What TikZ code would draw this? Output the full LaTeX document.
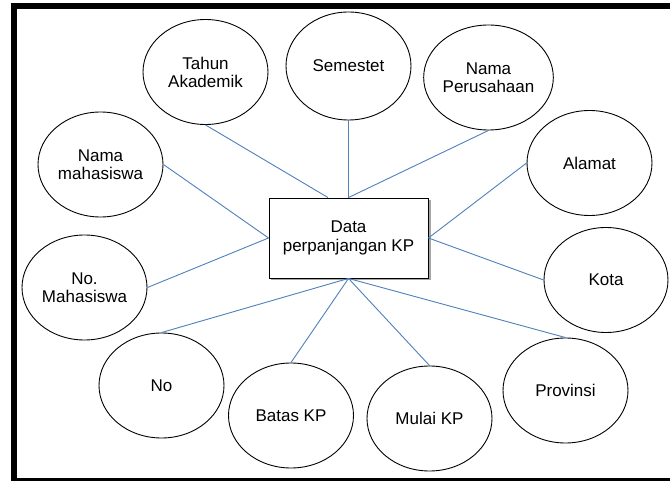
\documentclass[tikz,border=0pt]{standalone}
\usepackage{fontspec}
\setmainfont{Liberation Sans}
\usetikzlibrary{shapes.geometric}
\definecolor{linkblue}{RGB}{79,129,189}
\begin{document}
\begin{tikzpicture}[x=1pt,y=-1pt,
  attr/.style={ellipse,draw=black,line width=0.9pt,minimum width=125pt,minimum height=105pt,inner sep=0pt,align=center,font=\fontsize{17}{18}\selectfont},
  entity/.style={rectangle,draw=black,line width=0.9pt,fill=white,minimum width=159pt,minimum height=80pt,align=center,font=\fontsize{17}{19}\selectfont},
  link/.style={draw=linkblue,line width=0.9pt}]
\clip (0,0) rectangle (670,481);
\useasboundingbox (0,0) rectangle (670,481);
\fill[white] (0,0) rectangle (670,481);
\draw[line width=5.8pt] (14,6) rectangle (680,481);
% shadow of entity
\fill[gray!70] (271,200) rectangle (430.5,280.5);
\node[entity] (box) at (348.5,238) {Data\\perpanjangan KP};
\node[attr] (tahun) at (205.5,72) {Tahun\\Akademik};
\node[attr,minimum height=108pt] (sem) at (348.5,66) {Semestet};
\node[attr] (nper) at (488.5,77.5) {Nama\\Perusahaan};
\node[attr] (nmhs) at (100.5,164.5) {Nama\\mahasiswa};
\node[attr] (alamat) at (589.5,163) {Alamat};
\node[attr] (nomhs) at (84.5,287.5) {No.\\Mahasiswa};
\node[attr,minimum width=124pt] (kota) at (606,280) {Kota};
\node[attr] (no) at (161.5,385.5) {No};
\node[attr] (batas) at (291,415.5) {Batas KP};
\node[attr] (mulai) at (429.5,418.5) {Mulai KP};
\node[attr] (prov) at (565.5,390.5) {Provinsi};
\coordinate (boxnl) at ([xshift=-20.5pt]box.north);
\draw[link] (tahun.south) -- (boxnl);
\draw[link] (sem.south) -- (box.north);
\draw[link] (nper.south) -- (box.north);
\draw[link] (nmhs.east) -- (box.west);
\draw[link] (nomhs.east) -- (box.west);
\draw[link] (alamat.west) -- (box.east);
\draw[link] (kota.west) -- (box.east);
\draw[link] (no.north) -- (box.south);
\draw[link] (batas.north) -- (box.south);
\draw[link] (mulai.north) -- (box.south);
\draw[link] (prov.north) -- (box.south);
\end{tikzpicture}
\end{document}
